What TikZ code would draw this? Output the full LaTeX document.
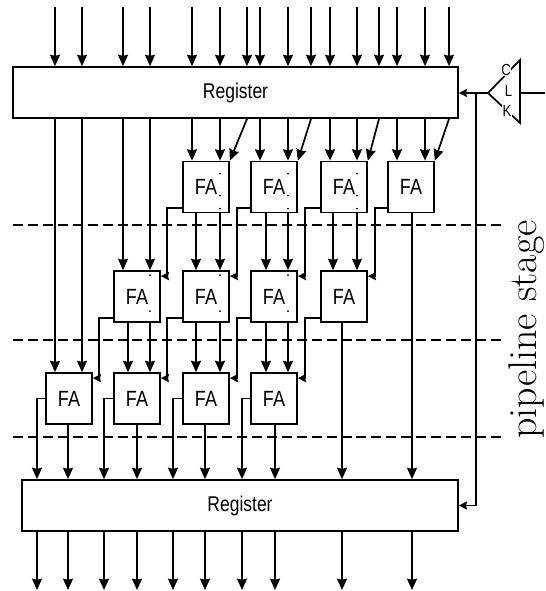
\documentclass[tikz,border=0pt]{standalone}
\usepackage{fontspec}
\usetikzlibrary{arrows.meta,calc}
\newfontfamily\regfont[FakeStretch=0.82]{Liberation Sans}
\begin{document}
\begin{tikzpicture}[
  x=0.75pt,y=-0.75pt,
  reg/.style={rectangle,draw,line width=1.3pt,inner sep=0pt,minimum height=38.25pt,
              font=\regfont\fontsize{16}{16}\selectfont},
  fa/.style={rectangle,draw,line width=1.3pt,inner sep=0pt,minimum width=34.5pt,
             minimum height=38.25pt,font=\regfont\fontsize{16.5}{16}\selectfont},
  sig/.style={-{Stealth[length=8.5pt,width=7.5pt,inset=0.8pt]},line width=1.3pt},
  carry/.style={-{Stealth[length=6pt,width=6pt,inset=0.6pt]},line width=1.3pt},
  wire/.style={line width=1.3pt},
  stagesep/.style={dashed,line width=1.3pt,dash pattern=on 7.5pt off 3.7pt},
  clkletter/.style={fill=white,inner sep=0.5pt,font=\regfont\fontsize{12}{12}\selectfont}
]
  \useasboundingbox (0,0) rectangle (545,591);

  \coordinate (sep1a) at (13,225);  \coordinate (sep1b) at (505,225);
  \coordinate (sep2a) at (13,340);  \coordinate (sep2b) at (505,340);
  \coordinate (sep3a) at (13,437);  \coordinate (sep3b) at (505,437);
  \draw[stagesep] (sep1a)--(sep1b);
  \draw[stagesep] (sep2a)--(sep2b);
  \draw[stagesep] (sep3a)--(sep3b);

  \node[reg,fill=white,minimum width=333.75pt] (top) at (235.5,92.5) {Register};
  \node[reg,fill=white,minimum width=327pt] (bot) at (240,505.5) {Register};

  \node[fa,fill=white] (fa11) at (206,187) {FA};
  \node[fa,fill=white] (fa12) at (274,187) {FA};
  \node[fa,fill=white] (fa13) at (344,187) {FA};
  \node[fa,fill=white] (fa14) at (411,187) {FA};
  \node[fa,fill=white] (fa21) at (137,296.5) {FA};
  \node[fa,fill=white] (fa22) at (206,296.5) {FA};
  \node[fa,fill=white] (fa23) at (274,296.5) {FA};
  \node[fa,fill=white] (fa24) at (344,296.5) {FA};
  \node[fa,fill=white] (fa31) at (69,398.5) {FA};
  \node[fa,fill=white] (fa32) at (137,398.5) {FA};
  \node[fa,fill=white] (fa33) at (206,398.5) {FA};
  \node[fa,fill=white] (fa34) at (274,398.5) {FA};

  \foreach \x [count=\i] in {55,82,123,150,192,220,247,260,288,311,330,357,379,397,425,449} {
    \coordinate (in\i) at (\x,7);
    \draw[sig] (in\i)--(in\i |- top.north);
  }
  \foreach \x [count=\i] in {37,68,104,137,173,205,242,275,342,412} {
    \coordinate (out\i) at (\x,590);
    \draw[sig] (bot.south -| out\i)--(out\i);
  }
  \coordinate (sa) at (128,0);
  \coordinate (sb) at (196,0);
  \coordinate (sc) at (266,0);
  \coordinate (sd) at (333,0);

  \foreach \c/\b in {in1/fa31,in2/fa31,in3/fa21,in4/fa21,in5/fa11,in6/fa11,
                     in8/fa12,in9/fa12,in11/fa13,in12/fa13,in14/fa14,in15/fa14}
    \draw[sig] (top.south -| \c)--(\c |- \b.north);
  \draw[sig] (top.south -| in7)--(fa11.north east);
  \draw[sig] (top.south -| in10)--(fa12.north east);
  \draw[sig] (top.south -| in13)--(fa13.north east);
  \draw[sig] (top.south -| in16)--(fa14.north east);

  \foreach \a/\b/\c in {fa11/fa22/sb,fa11/fa22/in6,fa12/fa23/sc,fa12/fa23/in9,
                        fa13/fa24/sd,fa13/fa24/in12,fa21/fa32/sa,fa21/fa32/in4,
                        fa22/fa33/sb,fa22/fa33/in6,fa23/fa34/sc,fa23/fa34/in9}
    \draw[sig] (\a.south -| \c)--(\c |- \b.north);

  \foreach \a/\b/\d in {fa11/fa21/-15,fa12/fa22/-13,fa13/fa23/-15,fa14/fa24/-12,
                        fa21/fa31/-14,fa22/fa32/-15,fa23/fa33/-13,fa24/fa34/-15}
    \draw[carry] ([yshift=3.75pt]\a.south west)--++(\d,0) |- ([yshift=-4.5pt]\b.north east);

  \foreach \a/\c/\s in {fa31/out1/out2,fa32/out3/out4,fa33/out5/out6,fa34/out7/out8} {
    \draw[sig] (\a.west) -| (\c |- bot.north);
    \draw[sig] (\a.south -| \s)--(\s |- bot.north);
  }
  \draw[sig] (fa24.south -| out9)--(out9 |- bot.north);
  \draw[sig] (fa14.south -| out10)--(out10 |- bot.north);

  \foreach \a/\c in {fa11/in6,fa12/in9,fa13/in12} {
    \fill (\c |- \a.north) ++(0,13) circle (0.7pt);
    \fill (\c |- \a.north) ++(0,35) circle (0.7pt);
    \fill (\c |- \a.north) ++(0,48) circle (0.7pt);
  }
  \foreach \a/\c in {fa21/in4,fa22/in6,fa23/in9} {
    \fill (\c |- \a.north) ++(0,5) circle (0.7pt);
    \fill (\c |- \a.north) ++(0,41) circle (0.7pt);
  }

  \coordinate (clkin) at (545,93);
  \coordinate (clkup) at (520,60);
  \coordinate (clkdn) at (520,123);
  \coordinate (clktip) at (488,93);
  \coordinate (clkjoin) at (476,93);
  \draw[wire] (clkin)--(clkin -| clkup);
  \draw[wire] (clkdn)--(clkup)--(clktip)--cycle;
  \node[clkletter] (clkc) at (506,70) {C};
  \node[clkletter] (clkl) at (508.5,91) {L};
  \node[clkletter] (clkk) at (507,111) {K};
  \draw[carry] (clktip)--(clktip -| top.east);
  \draw[carry] (clkjoin) |- (bot.east);

  \node[rotate=90,inner sep=0pt,font=\fontsize{30}{30}\selectfont] (stage) at (527,329.5) {pipeline stage};
\end{tikzpicture}
\end{document}
